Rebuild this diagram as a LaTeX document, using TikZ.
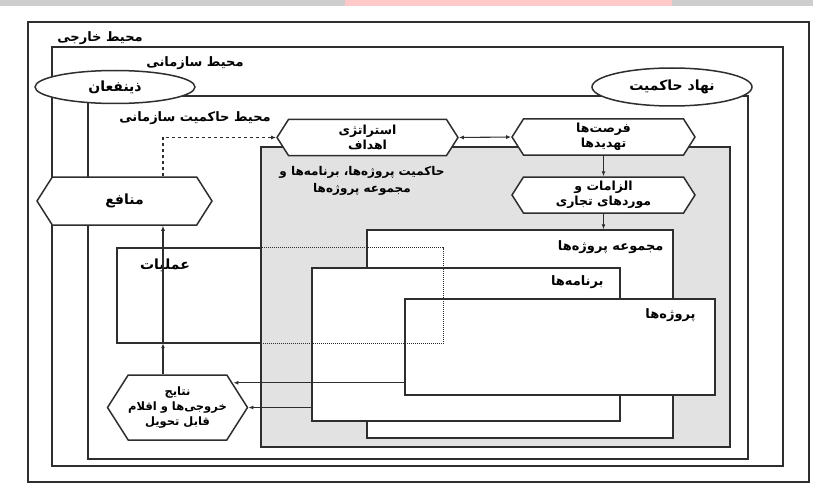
\documentclass[tikz,border=0pt]{standalone}
\usepackage{fontspec}
\usetikzlibrary{arrows.meta, shapes.geometric, shapes.symbols}
\TeXXeTstate=1
\newfontfamily\farsi[Script=Arabic]{DejaVu Sans}
\newcommand{\rl}[1]{\beginR #1\endR}
\definecolor{govgray}{HTML}{E2E2E2}
\definecolor{linegray}{HTML}{2E2E2E}
\definecolor{bandgray}{HTML}{CDCDCD}
\definecolor{bandpink}{HTML}{FFC9C9}

\begin{document}
\begin{tikzpicture}[x=1pt, y=-1pt,
      frame/.style={draw=linegray, line width=1.5pt, inner sep=0pt},
      area/.style={frame, fill=white},
      hexa/.style={draw=linegray, line width=1.5pt, fill=white, shape=signal,
        signal to=east and west, signal pointer angle=115, inner sep=0pt,
        align=center, font=\farsi\bfseries\fontsize{12.5}{15.5}\selectfont},
      oval/.style={ellipse, draw=linegray, line width=1.5pt, fill=white,
        inner sep=0pt, font=\farsi\bfseries\fontsize{14}{16}\selectfont},
      lbl/.style={font=\farsi\bfseries\fontsize{13}{16}\selectfont, inner sep=0pt,
        align=center},
      link/.style={draw=linegray, line width=1.1pt},
      >={Latex[length=5pt, width=4pt]}
    ]
      \useasboundingbox (0,0) rectangle (813,484);
      \fill[bandgray] (0,0) rectangle (813,6);
      \fill[bandpink] (345,0) rectangle (672,6);

      \node[frame, minimum width=781pt, minimum height=460pt] (outside) at (418.5,252) {};
      \node[frame, minimum width=731pt, minimum height=419pt] (org) at (417.5,256.5) {};
      \node[frame, minimum width=660pt, minimum height=363pt] (orggov) at (418,277.5) {};
      \node[frame, fill=govgray, minimum width=469pt, minimum height=300pt] (gov) at (495.5,297) {};
      \node[area, minimum width=306pt, minimum height=208pt] (port) at (520,334) {};
      \node[area, minimum width=308pt, minimum height=153pt] (prog) at (466,344.5) {};
      \node[area, minimum width=310pt, minimum height=96pt] (proj) at (560,347) {};
      \node[minimum width=326pt, minimum height=95pt, inner sep=0pt] (ops) at (280,295.5) {};

      \node[hexa, minimum width=181pt, minimum height=36pt] (strat) at (367.5,137.5)
        {\rl{استراتژی}\\\rl{اهداف}};
      \node[hexa, minimum width=183pt, minimum height=36pt] (opps) at (603.5,137)
        {\rl{فرصت^^^^200cها}\\\rl{تهدیدها}};
      \node[hexa, minimum width=183pt, minimum height=36pt] (req) at (603.5,195)
        {\rl{الزامات و}\\\rl{موردهای تجاری}};
      \node[hexa, minimum width=175pt, minimum height=48pt,
        font=\farsi\bfseries\fontsize{14}{16}\selectfont] (benefit) at (124.5,201)
        {\rl{منافع}};
      \node[hexa, minimum width=135pt, minimum height=65pt,
        font=\farsi\bfseries\fontsize{11.5}{15}\selectfont] (results) at (177.5,407.5)
        {\rl{نتایج}\\\rl{خروجی^^^^200cها و اقلام}\\\rl{قابل تحویل}};

      \node[oval, minimum width=160pt, minimum height=33pt] (stake) at (115,87) {\rl{ذینفعان}};
      \node[oval, minimum width=160pt, minimum height=38pt] (body) at (672,87) {\rl{نهاد حاکمیت}};

      \node[lbl] (outsidelbl) at (100,38) {\rl{محیط خارجی}};
      \node[lbl] (orglbl) at (195,63) {\rl{محیط سازمانی}};
      \node[lbl] (orggovlbl) at (195,118) {\rl{محیط حاکمیت سازمانی}};
      \node[lbl, font=\farsi\bfseries\fontsize{12}{17}\selectfont] (govlbl) at (362,181)
        {\rl{حاکمیت پروژه^^^^200cها، برنامه^^^^200cها و}\\\rl{مجموعه پروژه^^^^200cها}};
      \node[lbl, anchor=east] (portlbl)
        at ([shift={(-10,18)}]port.north east) {\rl{مجموعه پروژه^^^^200cها}};
      \node[lbl, anchor=east] (proglbl)
        at ([shift={(-17,15)}]prog.north east) {\rl{برنامه^^^^200cها}};
      \node[lbl, anchor=east] (projlbl)
        at ([shift={(-20,17)}]proj.north east) {\rl{پروژه^^^^200cها}};
      \node[lbl, font=\farsi\bfseries\fontsize{14}{16}\selectfont] (opslbl) at (165,265) {\rl{عملیات}};

      \coordinate (trunk) at (163,0);
      \coordinate (projout) at ([yshift=13pt]proj.south west);
      \draw[link, ->, dashed] (benefit.north -| trunk) |- (strat.west);
      \draw[link, <->] (strat.east) -- (opps.west);
      \draw[link, ->] (opps.south) -- (req.north);
      \draw[link, ->] (req.south) -- (req.south |- port.north);
      \draw[link, ->] (results.north -| trunk) -- (ops.south -| trunk);
      \draw[link, ->] (ops.south -| trunk) -- (benefit.south -| trunk);
      \draw[link, ->] (projout) -- ([xshift=-15pt]results.east |- projout);
      \draw[link, ->] (prog.west |- results.east) -- (results.east);

      \draw[frame] (ops.north west -| gov.west) -- (ops.north west)
        -- (ops.south west) -- (ops.south west -| gov.west);
      \draw[draw=linegray, line width=1pt, densely dotted] (ops.north west -| gov.west)
        -- (ops.north east) -- (ops.south east) -- (ops.south west -| gov.west);
    \end{tikzpicture}
\end{document}
